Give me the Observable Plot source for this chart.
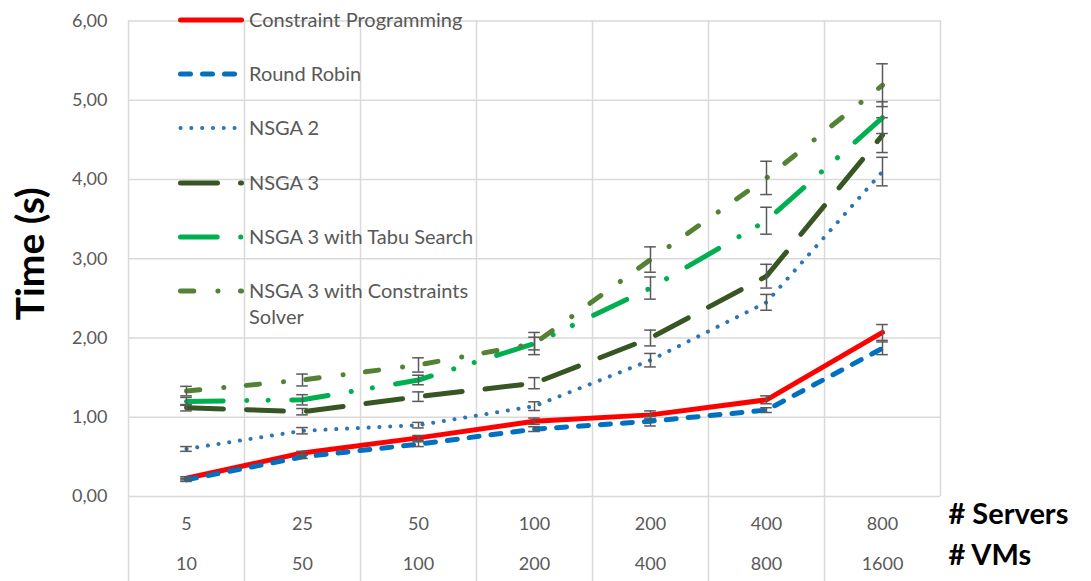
<!DOCTYPE html>
<html><head><meta charset="utf-8">
<script src="https://cdn.jsdelivr.net/npm/d3@7"></script>
<script src="https://cdn.jsdelivr.net/npm/@observablehq/plot@0.6"></script>
<style>
body{margin:0;background:#fff}
#chart{position:relative;width:1091px;height:581px}
</style>
</head><body><div id="chart"></div>
<script>
// ---- data ----
const servers = ["5","25","50","100","200","400","800"];
const vms = ["10","50","100","200","400","800","1600"];
const seriesNames = ["Constraint Programming","Round Robin","NSGA 2","NSGA 3","NSGA 3 with Tabu Search","NSGA 3 with Constraints Solver"];
const cpTime    = [0.23, 0.55, 0.74, 0.95, 1.03, 1.22, 2.07];
const rrTime    = [0.21, 0.50, 0.66, 0.85, 0.95, 1.09, 1.87];
const nsga2Time = [0.60, 0.83, 0.90, 1.14, 1.72, 2.45, 4.10];
const nsga3Time = [1.12, 1.07, 1.26, 1.43, 2.00, 2.78, 4.56];
const tabuTime  = [1.20, 1.22, 1.47, 1.93, 2.63, 3.48, 4.78];
const csTime    = [1.33, 1.47, 1.66, 1.93, 2.99, 4.02, 5.19];
const cpErr     = [0.02, 0.02, 0.03, 0.04, 0.05, 0.05, 0.10];
const rrErr     = [0.02, 0.02, 0.03, 0.03, 0.06, 0.03, 0.08];
const nsga2Err  = [0.03, 0.04, 0.035, 0.055, 0.085, 0.10, 0.18];
const nsga3Err  = [0.04, 0.04, 0.06, 0.07, 0.10, 0.15, 0.22];
const tabuErr   = [0.05, 0.065, 0.06, 0.08, 0.14, 0.17, 0.20];
const csErr     = [0.06, 0.075, 0.09, 0.14, 0.16, 0.21, 0.27];
const yTicks = [0, 1, 2, 3, 4, 5, 6];

// ---- styles ----
const styles = [
  {color:"#FF0000", width:5, dash:null},
  {color:"#0070C0", width:5, dash:"10,12"},
  {color:"#2E75B6", width:4, dash:"0.1,10.7"},
  {color:"#375623", width:5, dash:"37,23"},
  {color:"#00B050", width:5, dash:"36.7,23.5,0.1,21.3,0.1,23.5"},
  {color:"#548235", width:5, dash:"13.3,24.1,0.1,22.5"}
];
const values = [cpTime, rrTime, nsga2Time, nsga3Time, tabuTime, csTime];
const errs = [cpErr, rrErr, nsga2Err, nsga3Err, tabuErr, csErr];

const rows = [];
seriesNames.forEach((s, k) => values[k].forEach((v, i) => rows.push({series:s, k, i, value:v, err:errs[k][i]})));

const edges = d3.range(servers.length + 1).map(j => j - 0.5);
const grey = "#595959";
const grid = "#d9d9d9";
const font = "Lato, 'Open Sans', sans-serif";

const marks = [
  Plot.gridY(yTicks, {stroke:grid, strokeOpacity:1, strokeWidth:1.5}),
  Plot.gridX(edges, {stroke:grid, strokeOpacity:1, strokeWidth:1.5}),
  Plot.axisX(edges.slice(0, servers.length), {tickSize:85, stroke:grid, strokeWidth:1.5, strokeOpacity:1, tickFormat:() => "", label:null}),
  Plot.axisX(d3.range(servers.length), {tickSize:0, tickPadding:21, tickFormat:i => servers[i], fontSize:18, color:grey, label:null}),
  Plot.axisX(d3.range(vms.length), {tickSize:0, tickPadding:61, tickFormat:i => vms[i], fontSize:18, color:grey, label:null}),
  Plot.axisY(yTicks, {tickSize:0, tickPadding:21, tickFormat:d => d.toFixed(2).replace(".", ","), fontSize:18, color:grey, label:null})
];
seriesNames.forEach((s, k) => {
  const d = rows.filter(r => r.k === k);
  const st = styles[k];
  marks.push(Plot.line(d, {x:"i", y:"value", stroke:st.color, strokeWidth:st.width, strokeDasharray:st.dash, strokeLinecap:"round", strokeLinejoin:"round"}));
  marks.push(Plot.ruleX(d, {x:"i", y1:r => r.value - r.err, y2:r => r.value + r.err, stroke:grey, strokeWidth:1.5}));
  marks.push(Plot.ruleY(d, {y:r => r.value - r.err, x1:r => r.i - 0.05, x2:r => r.i + 0.05, stroke:grey, strokeWidth:1.5}));
  marks.push(Plot.ruleY(d, {y:r => r.value + r.err, x1:r => r.i - 0.05, x2:r => r.i + 0.05, stroke:grey, strokeWidth:1.5}));
});
marks.push(Plot.text(["Time (s)"], {frameAnchor:"left", dx:-97, dy:-5, rotate:-90, textAnchor:"middle", fontSize:39, fontWeight:"bold", fill:"#000"}));
marks.push(Plot.text(["# Servers"], {frameAnchor:"bottom-right", dx:8, dy:27, textAnchor:"start", fontSize:29, fontWeight:"bold", fill:"#000", style:{letterSpacing:"0.6px"}}));
marks.push(Plot.text(["# VMs"], {frameAnchor:"bottom-right", dx:8, dy:68, textAnchor:"start", fontSize:29, fontWeight:"bold", fill:"#000"}));

const plot = Plot.plot({
  width:1091, height:581,
  marginLeft:128, marginRight:151, marginTop:20.5, marginBottom:85,
  style:{fontFamily:font, background:"#fff", overflow:"visible"},
  x:{type:"linear", domain:[-0.5, 6.5]},
  y:{domain:[0, 6]},
  marks
});
document.getElementById("chart").appendChild(plot);

// ---- legend (inside plot, top-left) ----
const svg = d3.select(plot);
const legendRows = [20, 74, 128, 183, 237, 291];
const lg = svg.append("g").attr("font-family", font).attr("font-size", 20).attr("text-anchor", "start");
seriesNames.forEach((s, k) => {
  const st = styles[k];
  const y = legendRows[k];
  lg.append("line").attr("x1", 180.5).attr("x2", 241.5).attr("y1", y).attr("y2", y)
    .attr("stroke", st.color).attr("stroke-width", st.width)
    .attr("stroke-dasharray", st.dash).attr("stroke-linecap", "round");
  const t = lg.append("text").attr("x", 249).attr("y", y).attr("fill", grey).attr("dy", "0.35em");
  if (k === 5) {
    t.text("NSGA 3 with Constraints");
    lg.append("text").attr("x", 249).attr("y", y + 26).attr("fill", grey).attr("dy", "0.35em").text("Solver");
  } else t.text(s);
});
</script>
</body></html>
